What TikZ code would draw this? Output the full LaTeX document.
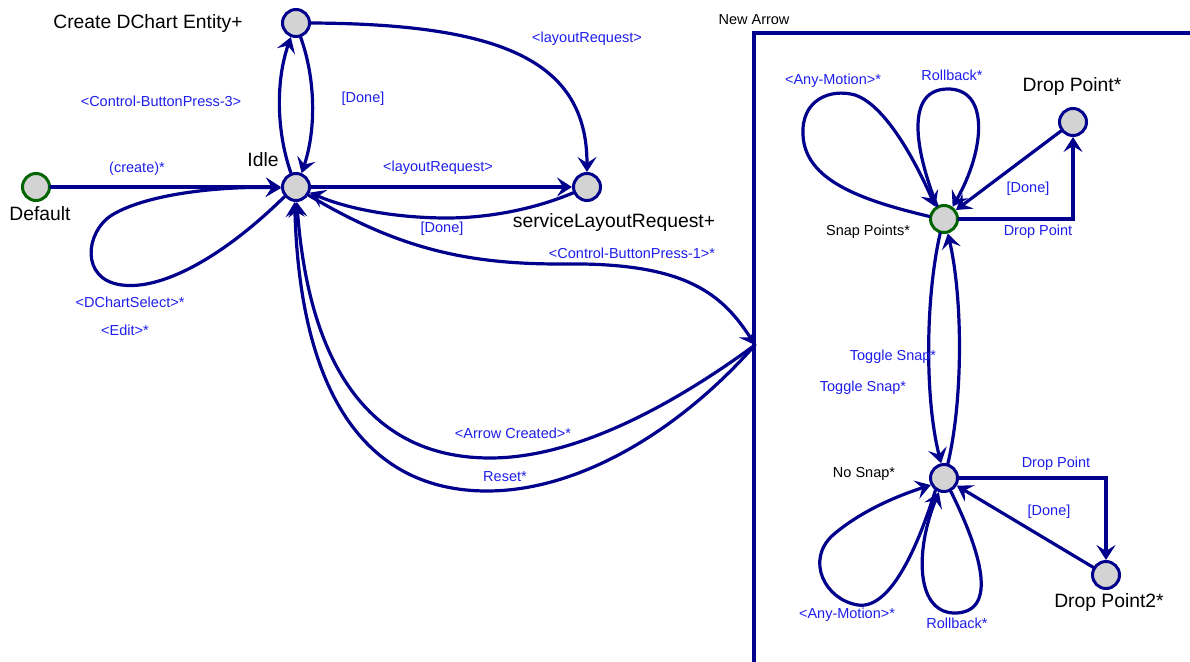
\documentclass[tikz,border=0pt]{standalone}
\usepackage{fontspec}
\setmainfont{Liberation Sans}
\usetikzlibrary{arrows.meta}
\definecolor{edgecol}{RGB}{0,0,140}
\definecolor{lblblue}{RGB}{30,30,235}
\definecolor{nodefill}{RGB}{211,211,211}
\definecolor{startgreen}{RGB}{0,100,0}
\begin{document}
\begin{tikzpicture}[x=1pt,y=-1pt,
  state/.style={circle,draw=edgecol,fill=nodefill,line width=3pt,minimum size=27pt,inner sep=0pt},
  initstate/.style={state,draw=startgreen},
  trans/.style={draw=edgecol,line width=3.2pt,line cap=round,-{Stealth[length=15pt,width=19pt,inset=6pt]}},
  plainline/.style={draw=edgecol,line width=3.2pt},
  lbl/.style={text=lblblue,font=\fontsize{14.5}{17}\selectfont,inner sep=0pt},
  bigname/.style={text=black,font=\fontsize{19.3}{22}\selectfont,inner sep=0pt},
  smallname/.style={text=black,font=\fontsize{14.5}{17}\selectfont,inner sep=0pt},
]
\useasboundingbox (0,0) rectangle (1190,661);

% frame of the composite state
\coordinate (fbl) at (754,670);
\coordinate (ftl) at (754,33);
\coordinate (ftr) at (1200,33);
\coordinate (entry) at (755,345);
\draw[plainline] (fbl) -- (ftl) -- (ftr);

% states
\node[initstate] (default) at (36,187) {};
\node[state] (idle) at (296,187) {};
\node[state] (create) at (296,23) {};
\node[state] (service) at (587,187) {};
\node[initstate] (snap) at (944,219) {};
\node[state] (dp) at (1073,122) {};
\node[state] (nosnap) at (944,478) {};
\node[state] (dp2) at (1106,575) {};

% state names
\node[bigname] (nCreate) at (148,24) {Create DChart Entity+};
\node[bigname] (nIdle) at (263,160) {Idle};
\node[bigname] (nDefault) at (40,214) {Default};
\node[bigname] (nService) at (614,223) {serviceLayoutRequest+};
\node[bigname] (nDp) at (1072,87) {Drop Point*};
\node[bigname] (nDp2) at (1109,603) {Drop Point2*};
\node[smallname] (nNew) at (754,20) {New Arrow};
\node[smallname] (nSnap) at (868,232) {Snap Points*};
\node[smallname] (nNoSnap) at (864,474) {No Snap*};

% transitions, left part
\draw[trans] (default) -- (idle);
\draw[trans] (idle.110) .. controls (276,130) and (276,80) .. (create.-110);
\draw[trans] (create.-72) .. controls (316,80) and (316,130) .. (idle.68);
\draw[trans] (create.0) .. controls (500,24) and (587,60) .. (service.north);
\draw[trans] (idle.east) -- (service.west);
\draw[trans] (service.-157) .. controls (520,215) and (470,218) .. (447,218) .. controls (400,218) and (350,210) .. (idle.-22);
\draw[trans] (idle.-140) .. controls (220,260) and (160,290) .. (122,285) .. controls (80,280) and (85,232) .. (112,215) .. controls (150,192) and (230,186) .. (idle.-176);
\draw[trans] (idle.-33) .. controls (400,250) and (470,264) .. (560,264) .. controls (680,262) and (720,290) .. (entry);
\draw[trans] (entry) .. controls (680,400) and (580,458) .. (490,458) .. controls (380,458) and (310,380) .. (idle.-87);
\draw[trans] (entry) .. controls (680,430) and (580,491) .. (487,491) .. controls (370,491) and (300,400) .. (idle.-95);

% transitions, right part
\draw[trans] (snap.170) .. controls (860,200) and (805,180) .. (803,135) .. controls (801,100) and (830,88) .. (855,95) .. controls (885,105) and (915,160) .. (snap.125);
\draw[trans] (snap.118) .. controls (915,150) and (905,90) .. (947,89) .. controls (990,88) and (985,150) .. (snap.55);
\draw[trans] (dp) -- (snap);
\draw[trans] (snap.east) -| (dp.south);
\draw[trans] (snap.-105) .. controls (925,300) and (925,400) .. (nosnap.101);
\draw[trans] (nosnap.75) .. controls (963,400) and (963,300) .. (snap.-75);
\draw[trans] (nosnap.east) -| (dp2.north);
\draw[trans] (dp2) -- (nosnap);
\draw[trans] (nosnap.-125) .. controls (920,540) and (892,610) .. (858,605) .. controls (825,600) and (805,560) .. (833,535) .. controls (862,510) and (900,495) .. (nosnap.-152);
\draw[trans] (nosnap.-63) .. controls (975,540) and (1002,610) .. (957,613) .. controls (915,615) and (915,550) .. (nosnap.-110);

% transition labels
\node[lbl] (l1) at (137,169) {(create)*};
\node[lbl] (l2) at (161,101) {<Control-ButtonPress-3>};
\node[lbl] (l3) at (363,99) {[Done]};
\node[lbl] (l4) at (587,39) {<layoutRequest>};
\node[lbl] (l5) at (438,168) {<layoutRequest>};
\node[lbl] (l6) at (442,229) {[Done]};
\node[lbl] (l7) at (632,253) {<Control-ButtonPress-1>*};
\node[lbl] (l8) at (130,302) {<DChartSelect>*};
\node[lbl] (l9) at (125,330) {<Edit>*};
\node[lbl] (l10) at (513,433) {<Arrow Created>*};
\node[lbl] (l11) at (505,477) {Reset*};
\node[lbl] (l12) at (833,81) {<Any-Motion>*};
\node[lbl] (l13) at (952,75) {Rollback*};
\node[lbl] (l14) at (1028,189) {[Done]};
\node[lbl] (l15) at (1038,232) {Drop Point};
\node[lbl] (l16) at (893,357) {Toggle Snap*};
\node[lbl] (l17) at (863,388) {Toggle Snap*};
\node[lbl] (l18) at (1056,464) {Drop Point};
\node[lbl] (l19) at (1049,512) {[Done]};
\node[lbl] (l20) at (847,615) {<Any-Motion>*};
\node[lbl] (l21) at (957,623) {Rollback*};
\end{tikzpicture}
\end{document}
